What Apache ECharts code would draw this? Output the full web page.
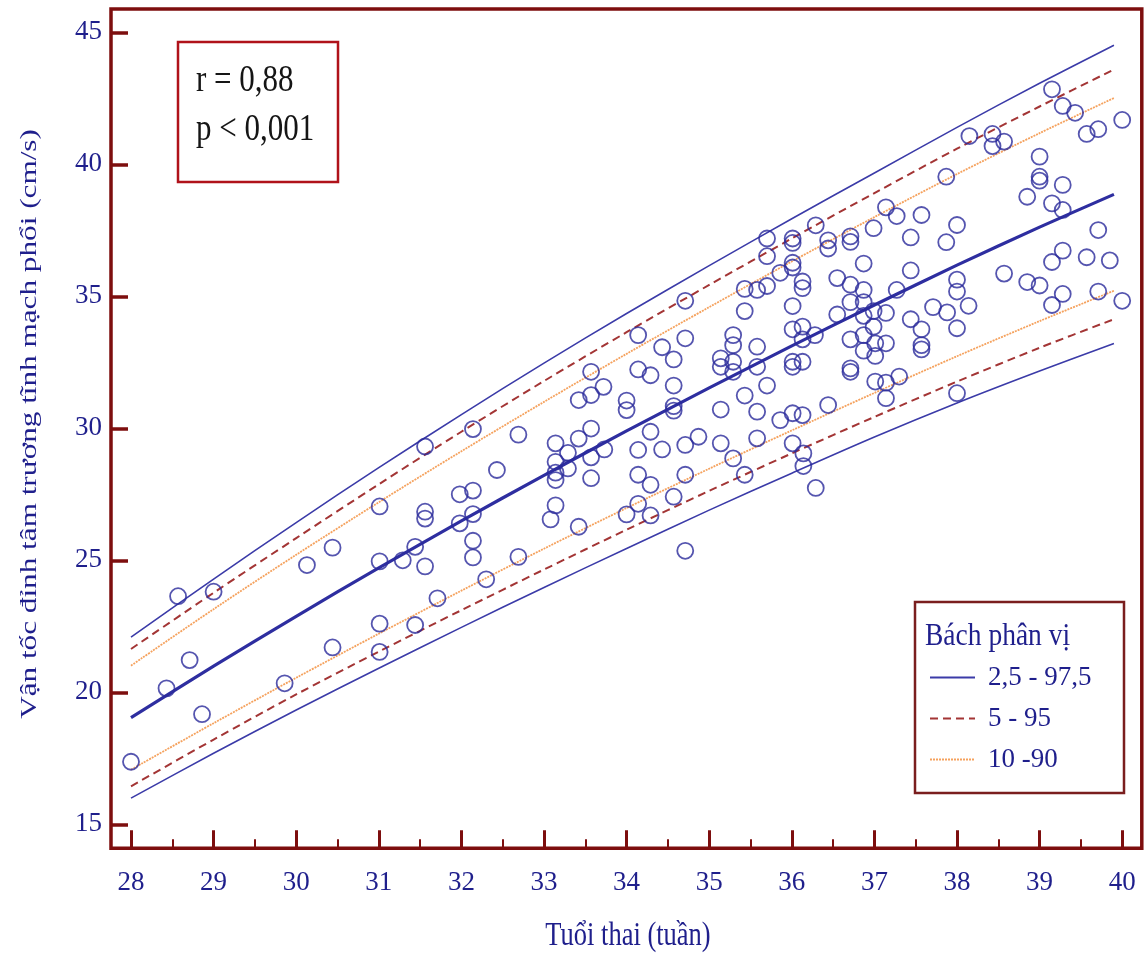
<!DOCTYPE html>
<html>
<head>
<meta charset="utf-8">
<script src="https://cdn.jsdelivr.net/npm/echarts@6/dist/echarts.min.js"></script>
<style>
html,body{margin:0;padding:0;background:#fff;}
#chart{width:1144px;height:953px;}
</style>
</head>
<body>
<div id="chart"></div>
<script>
// Gestational age (weeks) at which the percentile curves are read
const weeks = [28, 29, 30, 31, 32, 33, 34, 35, 36, 37, 38, 39, 39.9];
// Percentile curves (cm/s)
const pctl50   = [19.04, 20.99, 22.88, 24.71, 26.49, 28.22, 29.90, 31.53, 33.12, 34.67, 36.18, 37.62, 38.86];
const pctl97_5 = [22.09, 24.29, 26.43, 28.51, 30.52, 32.47, 34.35, 36.16, 37.94, 39.67, 41.40, 43.07, 44.51];
const pctl2_5  = [15.99, 17.69, 19.33, 20.91, 22.46, 23.97, 25.45, 26.90, 28.30, 29.67, 30.96, 32.17, 33.21];
const pctl95   = [21.64, 23.77, 25.84, 27.88, 29.87, 31.79, 33.64, 35.43, 37.19, 38.91, 40.59, 42.19, 43.59];
const pctl5    = [16.44, 18.21, 19.92, 21.54, 23.11, 24.65, 26.16, 27.63, 29.05, 30.43, 31.77, 33.05, 34.13];
const pctl90   = [21.01, 23.15, 25.21, 27.20, 29.13, 31.00, 32.82, 34.59, 36.32, 38.00, 39.63, 41.18, 42.51];
const pctl10   = [17.07, 18.83, 20.55, 22.22, 23.85, 25.44, 26.98, 28.47, 29.92, 31.34, 32.73, 34.06, 35.21];

// Observations
const obsWeek = [
 28.0, 28.43, 28.57, 28.71, 28.86, 29.0, 29.86, 30.13, 30.44, 30.44,
 31.01, 31.01, 31.01, 31.01, 31.29, 31.44, 31.44, 31.56, 31.56, 31.56,
 31.56, 31.71, 31.98, 31.98, 32.14, 32.14, 32.14, 32.14, 32.14, 32.30,
 32.43, 32.69, 32.69,
 33.14, 33.14, 33.14, 33.14, 33.14, 33.08, 33.29, 33.29, 33.42, 33.42,
 33.42, 33.57, 33.57, 33.57, 33.57, 33.57, 33.72, 33.73, 34.0, 34.0,
 34.0, 34.14, 34.14, 34.14, 34.14, 34.14, 34.29, 34.29, 34.29, 34.29,
 34.43, 34.43, 34.57, 34.57, 34.57, 34.57, 34.57, 34.71, 34.71, 34.71,
 34.71, 34.71, 34.87,
 35.14, 35.14, 35.14, 35.14, 35.29, 35.29, 35.29, 35.29, 35.29, 35.43,
 35.43, 35.43, 35.43, 35.58, 35.58, 35.58, 35.58, 35.58, 35.70, 35.70,
 35.70, 35.70, 35.86, 35.86, 36.01, 36.01, 36.01, 36.01, 36.01, 36.01,
 36.01, 36.01, 36.01, 36.01, 36.13, 36.13, 36.13, 36.13, 36.13, 36.13,
 36.14, 36.14, 36.28, 36.29, 36.29, 36.44, 36.44, 36.44, 36.55, 36.55,
 36.71, 36.71, 36.71, 36.71, 36.71, 36.71, 36.71, 36.87, 36.87, 36.87,
 36.87, 36.87, 36.87, 36.99, 36.99, 36.99, 37.01, 37.01, 37.01, 37.14,
 37.14, 37.14, 37.14, 37.14, 37.27, 37.27, 37.30,
 37.44, 37.44, 37.44, 37.57, 37.57, 37.57, 37.57, 37.71, 37.87, 37.87,
 37.88, 38.0, 38.0, 38.0, 38.0, 38.0, 38.14, 38.15, 38.43, 38.43,
 38.57, 38.57, 38.85, 38.85, 39.0, 39.0, 39.0, 39.0, 39.15, 39.15,
 39.15, 39.15, 39.28, 39.28, 39.28, 39.28, 39.28, 39.43, 39.57, 39.57,
 39.71, 39.71, 39.71, 39.85, 40.0, 40.0
];
const obsVelocity = [
 17.37, 20.15, 23.64, 21.22, 19.17, 23.81, 20.34, 24.82, 25.48, 21.70,
 27.04, 24.96, 22.60, 21.53, 25.0, 25.51, 22.55, 29.31, 26.84, 26.58,
 24.77, 23.56, 27.5, 26.40, 29.97, 27.64, 26.75, 25.74, 25.11, 24.28,
 28.42, 29.76, 25.13,
 29.43, 28.73, 28.32, 28.04, 27.08, 26.55, 29.07, 28.48, 31.07, 29.61,
 26.27, 32.14, 31.26, 29.99, 28.90, 28.11, 31.57, 29.20, 31.05, 30.69,
 26.74, 33.53, 32.23, 29.18, 28.24, 27.14, 32.01, 29.87, 27.86, 26.70,
 33.07, 29.20, 32.61, 31.62, 30.84, 30.67, 27.41, 34.83, 33.41, 29.37,
 28.24, 25.36, 29.68,
 32.65, 32.33, 30.71, 29.43, 33.53, 33.15, 32.52, 32.14, 28.86, 35.28,
 34.44, 31.24, 28.24, 35.24, 33.09, 32.33, 30.63, 29.62, 37.19, 36.52,
 35.39, 31.62, 35.89, 30.31, 37.19, 37.02, 36.27, 36.09, 34.63, 33.75,
 32.52, 32.33, 30.57, 29.43, 35.56, 35.31, 33.85, 33.37, 32.52, 30.50,
 29.05, 28.57, 33.53, 37.69, 27.74, 37.12, 36.81, 30.88, 35.69, 34.31,
 37.27, 37.06, 35.44, 34.78, 33.37, 32.27, 32.14, 36.24, 35.24, 34.78,
 34.26, 33.53, 32.94, 37.58, 34.44, 33.85, 33.22, 32.74, 31.77, 38.37,
 34.37, 33.22, 31.73, 31.14, 38.04, 35.24, 31.96,
 37.23, 35.98, 34.13, 38.08, 33.75, 33.15, 32.99, 34.59, 39.53, 37.05,
 34.39, 37.70, 35.63, 35.18, 33.79, 31.33, 34.64, 41.07, 41.15, 40.69,
 40.86, 35.86, 38.77, 35.54, 40.29, 39.53, 39.38, 35.41, 42.84, 38.52,
 36.30, 34.67, 42.21, 39.22, 38.27, 36.73, 35.09, 41.95, 41.15, 36.48,
 41.33, 37.51, 35.18, 36.36, 41.68, 34.83
];

const xTitle = 'Tuổi thai (tuần)';
const yTitle = 'Vận tốc đỉnh tâm trương tĩnh mạch phổi (cm/s)';
const statLines = ['r = 0,88', 'p < 0,001'];
const legendTitle = 'Bách phân vị';
const bandNames = ['2,5 - 97,5', '5 - 95', '10 -90'];

const FRAME = '#7d0e0e';
const NAVY = '#1f1f8c';
const SERIF = '"Liberation Serif","DejaVu Serif",serif';

const pair = (xs, ys) => xs.map((x, i) => [x, ys[i]]);

function lineSeries(name, ys, style) {
  return {
    type: 'line', name: name, data: pair(weeks, ys), symbol: 'none',
    smooth: 0.3, lineStyle: style, itemStyle: {color: style.color}, z: 2, silent: true
  };
}

const thinBlue = {color: '#3b3ba8', width: 1.6, type: 'solid'};
const dashRed = {color: '#a33535', width: 2, type: [8, 5]};
const dotOrange = {color: '#f5a25e', width: 1.8, type: [2, 1]};

const chart = echarts.init(document.getElementById('chart'), null, {renderer: 'canvas'});
chart.setOption({
  animation: false,
  backgroundColor: '#ffffff',
  grid: {left: 131, right: 21.8, top: 32.3, bottom: 128.7, containLabel: false},
  xAxis: {
    type: 'value', min: 28, max: 40, interval: 1, offset: 24,
    axisLine: {show: false},
    axisTick: {inside: true, length: 18, lineStyle: {color: FRAME, width: 3}},
    minorTick: {show: true, splitNumber: 2, length: 9, lineStyle: {color: FRAME, width: 2}},
    splitLine: {show: false}, minorSplitLine: {show: false},
    axisLabel: {margin: 21, fontFamily: SERIF, fontSize: 27, color: NAVY}
  },
  yAxis: {
    type: 'value', min: 15, max: 45, interval: 5, offset: 20,
    axisLine: {show: false},
    axisTick: {inside: true, length: 17, lineStyle: {color: FRAME, width: 3.5}},
    splitLine: {show: false},
    axisLabel: {margin: 9, fontFamily: SERIF, fontSize: 27, color: NAVY}
  },
  legend: {
    data: bandNames, orient: 'vertical', left: 929, top: 664,
    itemWidth: 45, itemHeight: 14, itemGap: 14, padding: 0,
    selectedMode: false,
    itemStyle: {opacity: 0, borderWidth: 0},
    textStyle: {fontFamily: SERIF, fontSize: 27, color: NAVY, padding: [0, 0, 0, 8]}
  },
  series: [
    lineSeries(bandNames[0], pctl97_5, thinBlue),
    lineSeries(bandNames[0], pctl2_5, thinBlue),
    lineSeries(bandNames[1], pctl95, dashRed),
    lineSeries(bandNames[1], pctl5, dashRed),
    lineSeries(bandNames[2], pctl90, dotOrange),
    lineSeries(bandNames[2], pctl10, dotOrange),
    lineSeries('Trung vị', pctl50, {color: '#2e2ea0', width: 3.2, type: 'solid'}),
    {
      type: 'scatter', name: 'Quan sát', data: pair(obsWeek, obsVelocity),
      symbol: 'circle', symbolSize: 16, z: 3, silent: true,
      itemStyle: {color: 'rgba(0,0,0,0)', borderColor: '#2b2b9b', borderWidth: 1.8}
    }
  ],
  graphic: [
    {type: 'rect', shape: {x: 111, y: 9, width: 1030.8, height: 839.3},
     style: {fill: null, stroke: FRAME, lineWidth: 3.5}, z: 10, silent: true},
    {type: 'rect', shape: {x: 178, y: 42, width: 160, height: 140},
     style: {fill: '#fff', stroke: '#b0121a', lineWidth: 2.5}, z: 10},
    {type: 'text', x: 196, y: 81, scaleY: 1.2, z: 11,
     style: {text: statLines[0], font: '31px ' + SERIF, fill: '#151515', textAlign: 'left', textVerticalAlign: 'middle'}},
    {type: 'text', x: 196, y: 130, scaleY: 1.2, z: 11,
     style: {text: statLines[1], font: '31px ' + SERIF, fill: '#151515', textAlign: 'left', textVerticalAlign: 'middle'}},
    {type: 'rect', shape: {x: 915, y: 602, width: 209, height: 191},
     style: {fill: '#fff', stroke: '#7a1e1e', lineWidth: 2.5}, z: 1},
    {type: 'text', x: 925, y: 637, scaleY: 1.12, z: 11,
     style: {text: legendTitle, font: '27.5px ' + SERIF, fill: NAVY, textAlign: 'left', textVerticalAlign: 'middle'}},
    {type: 'text', x: 628, y: 936, scaleY: 1.25, z: 11,
     style: {text: xTitle, font: '26.5px ' + SERIF, fill: NAVY, textAlign: 'center', textVerticalAlign: 'middle'}},
    {type: 'text', x: 30, y: 424, rotation: Math.PI / 2, scaleX: 1.3, z: 11,
     style: {text: yTitle, font: '24px ' + SERIF, fill: NAVY, textAlign: 'center', textVerticalAlign: 'middle'}}
  ]
});
</script>
</body>
</html>
